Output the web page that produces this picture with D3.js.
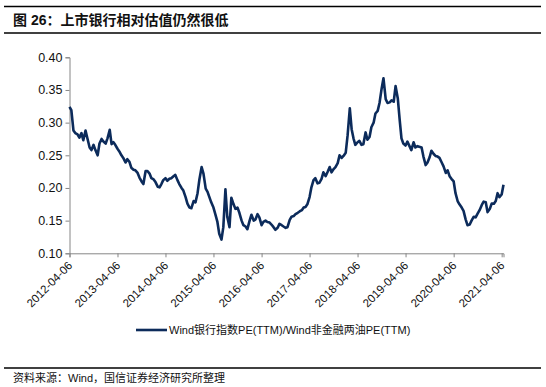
<!DOCTYPE html>
<html lang="zh">
<head>
<meta charset="UTF-8">
<title>图 26</title>
<style>
  body { margin: 0; background: #fff; }
  svg { display: block; }
</style>
</head>
<body>
<script src="https://cdnjs.cloudflare.com/ajax/libs/d3/7.8.5/d3.min.js"></script>
<script>
const pe2012 = [0.324, 0.319, 0.288, 0.284, 0.282, 0.277, 0.284, 0.273, 0.288, 0.276, 0.262, 0.258, 0.266, 0.258, 0.250, 0.268, 0.275, 0.271]; // Apr-Dec
const pe2013 = [0.268, 0.276, 0.289, 0.267, 0.270, 0.266, 0.260, 0.256, 0.250, 0.246, 0.239, 0.244, 0.240, 0.231, 0.228, 0.227, 0.223, 0.216, 0.210, 0.206, 0.226, 0.226, 0.222, 0.215];
const pe2014 = [0.213, 0.209, 0.202, 0.201, 0.206, 0.212, 0.215, 0.211, 0.214, 0.215, 0.218, 0.220, 0.212, 0.206, 0.200, 0.196, 0.186, 0.176, 0.170, 0.169, 0.180, 0.178, 0.192, 0.213];
const pe2015 = [0.232, 0.222, 0.199, 0.194, 0.186, 0.178, 0.170, 0.160, 0.148, 0.130, 0.121, 0.140, 0.198, 0.156, 0.140, 0.185, 0.175, 0.168, 0.170, 0.162, 0.150, 0.143, 0.141, 0.137];
const pe2016 = [0.150, 0.159, 0.150, 0.152, 0.160, 0.155, 0.143, 0.148, 0.150, 0.148, 0.147, 0.144, 0.140, 0.136, 0.139, 0.145, 0.143, 0.141, 0.139, 0.140, 0.151, 0.156, 0.157, 0.160];
const pe2017 = [0.162, 0.164, 0.166, 0.170, 0.171, 0.175, 0.186, 0.201, 0.212, 0.215, 0.207, 0.208, 0.214, 0.224, 0.218, 0.224, 0.232, 0.224, 0.229, 0.232, 0.238, 0.250, 0.246, 0.249];
const pe2018 = [0.254, 0.280, 0.322, 0.290, 0.276, 0.266, 0.270, 0.272, 0.266, 0.267, 0.285, 0.274, 0.278, 0.293, 0.300, 0.314, 0.318, 0.330, 0.352, 0.368, 0.336, 0.330, 0.331, 0.334];
const pe2019 = [0.332, 0.356, 0.337, 0.305, 0.276, 0.268, 0.265, 0.271, 0.264, 0.258, 0.270, 0.262, 0.264, 0.263, 0.262, 0.248, 0.235, 0.239, 0.247, 0.257, 0.252, 0.249, 0.248, 0.246];
const pe2020 = [0.239, 0.233, 0.223, 0.227, 0.218, 0.214, 0.210, 0.192, 0.180, 0.175, 0.170, 0.165, 0.152, 0.143, 0.144, 0.150, 0.156, 0.155, 0.161, 0.166, 0.174, 0.179, 0.178, 0.163];
const pe2021 = [0.168, 0.176, 0.176, 0.180, 0.192, 0.186, 0.190, 0.205]; // Jan-Apr

const years = [2012, 2013, 2014, 2015, 2016, 2017, 2018, 2019, 2020, 2021];
const yearValues = [pe2012, pe2013, pe2014, pe2015, pe2016, pe2017, pe2018, pe2019, pe2020, pe2021];

const tickDates = ['2012-04-06', '2013-04-06', '2014-04-06', '2015-04-06', '2016-04-06',
                   '2017-04-06', '2018-04-06', '2019-04-06', '2020-04-06', '2021-04-06'];
const yTicks = [0.10, 0.15, 0.20, 0.25, 0.30, 0.35, 0.40];

const titleText = '图 26：上市银行相对估值仍然很低';
const legendText = 'Wind银行指数PE(TTM)/Wind非金融两油PE(TTM)';
const sourceText = '资料来源：Wind，国信证券经济研究所整理';

const parse = d3.timeParse('%Y-%m-%d');

// build [date, value] rows: the first year starts in April, the rest in January
const data = [];
yearValues.forEach((vals, yi) => {
    const startMonth = yi === 0 ? 3 : 0;
    vals.forEach((v, i) => {
        const month = startMonth + Math.floor(i / 2);
        const day = i % 2 === 0 ? 6 : 20;
        data.push({ date: new Date(years[yi], month, day), value: v });
    });
});

const width = 546, height = 387;
const plot = { left: 69.5, right: 503.5, top: 57.3, bottom: 253.3 };

const svg = d3.select('body').append('svg')
    .attr('width', width)
    .attr('height', height);

const cjk = '"Liberation Sans", Arial, "Noto Sans CJK SC", sans-serif';

// title block
svg.append('line').attr('x1', 4).attr('x2', 541).attr('y1', 6.5).attr('y2', 6.5)
    .attr('stroke', '#000').attr('stroke-width', 1.3);
svg.append('text').attr('x', 13).attr('y', 25)
    .attr('font-family', cjk).attr('font-size', 14).attr('font-weight', 'bold')
    .attr('fill', '#111').text(titleText);
svg.append('line').attr('x1', 4).attr('x2', 541).attr('y1', 33).attr('y2', 33)
    .attr('stroke', '#000').attr('stroke-width', 1.3);

// scales
const x = d3.scaleTime()
    .domain([parse('2012-04-06'), parse('2021-04-20')])
    .range([plot.left, plot.right]);
const y = d3.scaleLinear()
    .domain([0.10, 0.40])
    .range([plot.bottom, plot.top]);

// y axis
const yAxis = d3.axisLeft(y).tickValues(yTicks).tickFormat(d3.format('.2f')).tickSize(4).tickPadding(3);
const gy = svg.append('g').attr('transform', `translate(${plot.left},0)`).call(yAxis);
gy.select('.domain').attr('stroke', '#868686');
gy.selectAll('.tick line').attr('stroke', '#868686');
gy.selectAll('.tick text').attr('font-family', '"Liberation Sans", Arial, sans-serif')
    .attr('font-size', 12.5).attr('fill', '#111');

// x axis
const xAxis = d3.axisBottom(x).tickValues(tickDates.map(parse)).tickFormat(d3.timeFormat('%Y-%m-%d')).tickSize(4);
const gx = svg.append('g').attr('transform', `translate(0,${plot.bottom})`).call(xAxis);
gx.select('.domain').attr('stroke', '#868686');
gx.selectAll('.tick line').attr('stroke', '#868686');
gx.selectAll('.tick text')
    .attr('font-family', '"Liberation Sans", Arial, sans-serif')
    .attr('font-size', 11.5).attr('fill', '#111')
    .attr('text-anchor', 'end')
    .attr('dy', null)
    .attr('y', 0)
    .attr('transform', 'translate(3,13) rotate(-45)');

// series
const line = d3.line()
    .x(d => x(d.date))
    .y(d => y(d.value));
svg.append('path').datum(data)
    .attr('d', line)
    .attr('fill', 'none')
    .attr('stroke', '#0c2b5b')
    .attr('stroke-width', 2.6)
    .attr('stroke-linejoin', 'round');

// legend
svg.append('line').attr('x1', 136).attr('x2', 167).attr('y1', 330).attr('y2', 330)
    .attr('stroke', '#0c2b5b').attr('stroke-width', 2.6);
svg.append('text').attr('x', 169).attr('y', 334)
    .attr('font-family', cjk).attr('font-size', 11).attr('fill', '#111')
    .text(legendText);

// source
svg.append('line').attr('x1', 4).attr('x2', 541).attr('y1', 368).attr('y2', 368)
    .attr('stroke', '#000').attr('stroke-width', 1.3);
svg.append('text').attr('x', 13).attr('y', 382)
    .attr('font-family', cjk).attr('font-size', 11).attr('fill', '#111')
    .text(sourceText);
</script>
</body>
</html>
